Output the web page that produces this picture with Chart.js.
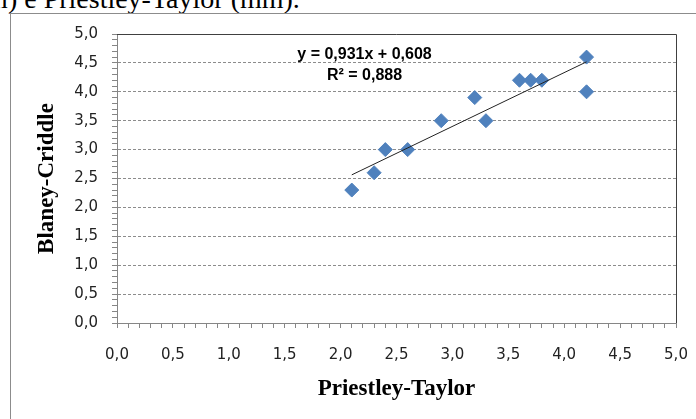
<!DOCTYPE html>
<html>
<head>
<meta charset="utf-8">
<script src="https://cdn.jsdelivr.net/npm/chart.js@4/dist/chart.umd.min.js"></script>
<style>
  html, body { margin: 0; padding: 0; background: #fff; overflow: hidden; }
  #wrap { position: relative; width: 696px; height: 419px; overflow: hidden; background: #fff; }
  #caption { position: absolute; left: -45px; top: -15.4px; font-family: "Liberation Serif", "Times New Roman", serif; font-size: 28px; line-height: 28px; color: #000; white-space: nowrap; }
  #frame { position: absolute; left: 10px; top: 13px; width: 720px; height: 440px; border: 1px solid #8c8c8c; box-sizing: border-box; }
  #cv { position: absolute; left: 0; top: 0; }
</style>
</head>
<body>
<div id="wrap">
  <div id="caption">(mm) e Priestley-Taylor (mm).</div>
  <div id="frame"></div>
  <canvas id="cv" width="696" height="419"></canvas>
</div>
<script>
// ---- data ----
const priestleyTaylor = [2.1, 2.3, 2.4, 2.6, 2.9, 3.2, 3.3, 3.6, 3.7, 3.8, 4.2, 4.2];
const blaneyCriddle   = [2.3, 2.6, 3.0, 3.0, 3.5, 3.9, 3.5, 4.2, 4.2, 4.2, 4.6, 4.0];
const trendSlope = 0.931;
const trendIntercept = 0.608;
const trendR2 = 0.888;
const majorTicks = [0, 0.5, 1, 1.5, 2, 2.5, 3, 3.5, 4, 4.5, 5];
const minorStep = 0.1;
const xTitle = 'Priestley-Taylor';
const yTitle = 'Blaney-Criddle';

const fmt = v => v.toFixed(1).replace('.', ',');
const fmt3 = v => v.toFixed(3).replace('.', ',');
const isMajor = v => majorTicks.some(m => Math.abs(m - v) < 1e-6);

const allTicks = [];
for (let i = 0; i <= Math.round((majorTicks[majorTicks.length-1]-majorTicks[0]) / minorStep); i++) {
  allTicks.push(Math.round((majorTicks[0] + i * minorStep) * 10) / 10);
}

const points = priestleyTaylor.map((x, i) => ({ x, y: blaneyCriddle[i] }));
const xmin = Math.min(...priestleyTaylor), xmax = Math.max(...priestleyTaylor);
const trend = [xmin, xmax].map(x => ({ x, y: trendSlope * x + trendIntercept }));

const AXIS_GRAY = '#868686';
const tickFont = { family: 'DejaVu Sans', size: 15 };
const titleFont = { family: 'Liberation Serif', size: 23, weight: 'bold' };

const overlay = {
  id: 'overlay',
  afterDraw(chart) {
    const { ctx, chartArea: a } = chart;
    ctx.save();
    ctx.strokeStyle = '#404040';
    ctx.lineWidth = 1;
    ctx.beginPath();
    ctx.moveTo(a.left, a.top + 0.5);
    ctx.lineTo(a.right + 0.5, a.top + 0.5);
    ctx.lineTo(a.right + 0.5, a.bottom);
    ctx.stroke();
    ctx.fillStyle = '#000';
    ctx.font = 'bold 16px "Liberation Sans", Arial, sans-serif';
    ctx.textAlign = 'center';
    ctx.textBaseline = 'middle';
    const cx = a.left + 247.5;
    ctx.fillText('y = ' + fmt3(trendSlope) + 'x + ' + fmt3(trendIntercept), cx, a.top + 21);
    ctx.fillText('R² = ' + fmt3(trendR2), cx, a.top + 42);
    ctx.restore();
  }
};

function axisCommon(titleText, titlePad) {
  return {
    type: 'linear',
    min: majorTicks[0],
    max: majorTicks[majorTicks.length - 1],
    afterBuildTicks: s => { s.ticks = allTicks.map(v => ({ value: v })); },
    title: { display: true, text: titleText, font: titleFont, color: '#000', padding: titlePad },
    border: { display: true, color: AXIS_GRAY, width: 1 }
  };
}

new Chart(document.getElementById('cv'), {
  type: 'scatter',
  data: {
    datasets: [
      {
        label: 'trend',
        data: trend,
        showLine: true,
        borderColor: '#222',
        borderWidth: 1,
        pointRadius: 0,
        fill: false,
        order: 0
      },
      {
        label: 'pontos',
        data: points,
        pointStyle: 'rectRot',
        pointRadius: 7,
        backgroundColor: '#4F81BD',
        borderColor: '#4F81BD',
        borderWidth: 1,
        order: 1
      }
    ]
  },
  options: {
    responsive: false,
    animation: false,
    devicePixelRatio: 1,
    layout: { padding: { top: 34, right: 20, left: 0, bottom: 0 } },
    plugins: { legend: { display: false }, tooltip: { enabled: false } },
    scales: {
      x: Object.assign(axisCommon(xTitle, { top: 0, bottom: 16 }), {
        position: 'bottom',
        afterFit: s => { s.height = 96; s.paddingLeft = 0; s.paddingRight = 0; },
        ticks: { autoSkip: false, maxRotation: 0, minRotation: 0, padding: 18, font: tickFont, color: '#222',
                 callback: v => isMajor(v) ? fmt(v) : '' },
        grid: { drawOnChartArea: false, drawTicks: true, tickLength: 5, tickColor: AXIS_GRAY, color: AXIS_GRAY }
      }),
      y: Object.assign(axisCommon(yTitle, { top: 33, bottom: 0 }), {
        position: 'left',
        afterFit: s => { s.width = 117; s.paddingTop = 0; s.paddingBottom = 0; },
        ticks: { autoSkip: false, padding: 14, font: tickFont, color: '#222',
                 callback: v => isMajor(v) ? fmt(v) : '' },
        grid: {
          drawOnChartArea: true, drawTicks: true, tickLength: 5, tickColor: AXIS_GRAY,
          color: c => (c.tick && isMajor(c.tick.value)) ? '#8c8c8c' : 'rgba(0,0,0,0)',
          lineWidth: 1
        },
        border: { display: true, color: AXIS_GRAY, width: 1, dash: [3, 2] }
      })
    }
  },
  plugins: [overlay]
});
</script>
</body>
</html>
